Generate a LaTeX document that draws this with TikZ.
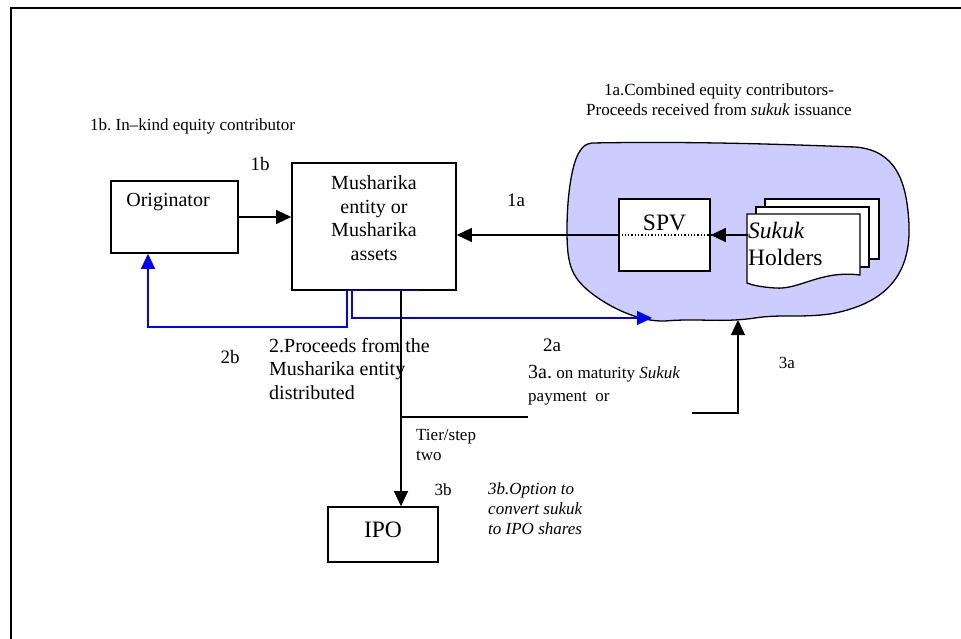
\documentclass[tikz,border=0pt]{standalone}
\usepackage{fontspec}
\setmainfont{Liberation Serif}
\usetikzlibrary{arrows.meta}
\newcommand\fsz[2]{\fontsize{#1}{#2}\selectfont}
\definecolor{cloudfill}{RGB}{204,204,255}
\definecolor{lineblue}{RGB}{0,0,255}
\frenchspacing
\tikzset{
  boxnode/.style={draw, line width=1.6pt, fill=white, inner sep=0pt},
  arr/.style={-{Triangle[length=15pt,width=14pt]}, line width=1.3pt},
  barr/.style={-{Triangle[length=15pt,width=14pt]}, line width=1.3pt, draw=lineblue},
  bline/.style={line width=1.3pt, draw=lineblue},
  pline/.style={line width=1.3pt},
  txt/.style={inner sep=0pt, text=black},
  sm/.style={txt, font=\fsz{17}{20}},
  md/.style={txt, font=\fsz{19}{22}},
  lg/.style={txt, font=\fsz{20}{23.5}},
  xl/.style={txt, font=\fsz{23.5}{27}},
}
\begin{document}
\begin{tikzpicture}[x=1pt,y=-1pt]
\useasboundingbox (0,0) rectangle (961,639);
% frame
\draw[line width=1.6pt] (11,639) -- (11,8) -- (961,8);

% cloud
\draw[line width=1.3pt, fill=cloudfill] (592,143) .. controls (700,141) and (800,145) .. (855,147)
 .. controls (895,150) and (907,180) .. (909,225)
 .. controls (911,280) and (880,305) .. (830,314)
 .. controls (800,318) and (780,314) .. (755,318)
 .. controls (720,323) and (700,318) .. (665,321)
 .. controls (640,322) and (610,308) .. (590,292)
 .. controls (570,276) and (567,262) .. (567,230)
 .. controls (567,195) and (572,162) .. (580,151)
 .. controls (583,146) and (586,144) .. (592,143) -- cycle;
\coordinate (cloudL) at (652,318);
\coordinate (cloudB) at (738,320);

% sukuk holders stacked documents
\draw[line width=1.3pt, fill=white] (765,199) rectangle (879,259);
\draw[line width=1.3pt, fill=white] (756,207) rectangle (869,267);
\draw[line width=1.3pt, fill=white] (747,214) -- (860,214) -- (860,275)
  .. controls (820,270) and (800,290) .. (775,288)
  .. controls (760,287) and (752,285) .. (747,283) -- cycle;
\node[xl, anchor=west, align=left] (sukuk) at (748,243.5) {\textit{Sukuk}\\Holders};

% boxes
\node[boxnode, minimum width=127pt, minimum height=72pt] (orig) at (174.5,217) {};
\node[lg] (origt) at (168,202) {Originator};
\node[boxnode, minimum width=164pt, minimum height=127pt] (mush) at (374,226.5) {};
\node[lg, align=center] (musht) at (374,218) {Musharika\\entity or\\Musharika\\assets};
\node[boxnode, minimum width=91pt, minimum height=72pt] (spv) at (664.5,235) {};
\node[xl] (spvt) at (664.5,223) {SPV};
\draw[dotted, line width=1.3pt] (spv.west) -- (spv.east);
\node[boxnode, minimum width=110pt, minimum height=55pt] (ipo) at (383,534.5) {};
\node[xl] (ipot) at (383,530) {IPO};

% connectors
\draw[arr] (orig.east) -- (mush.west |- orig.east);
\draw[arr] (spv.west) -- (mush.east |- spv.west);
\draw[arr] (sukuk.west |- spv.east) -- (spv.east);

\coordinate (b2) at (347,327);
\draw[bline] ([xshift=-27pt]mush.south) -- ([xshift=46pt]mush.south);
\draw[barr] ([xshift=-27pt]mush.south) -- (b2) -| ([xshift=-26.5pt]orig.south);
\coordinate (a2) at (352,318);
\draw[barr] ([xshift=-22pt]mush.south) -- (a2) -- (cloudL);

\draw[arr] ([xshift=27pt]mush.south) -- ([xshift=18pt]ipo.north);
\coordinate (j) at (401,417);
\coordinate (jE) at (528,417);
\draw[pline] (j) -- (jE);
\coordinate (k1) at (692,413);
\coordinate (k2) at (738,413);
\draw[arr] (k1) -- (k2) -- (cloudB);

% labels
\node[sm, anchor=west] (l1btitle) at (90,126) {1b. In–kind equity contributor};
\node[md] (l1b) at (260,164) {1b};
\node[md] (l1a) at (516,200) {1a};
\node[sm, align=center] (l1atitle) at (719,100) {1a.Combined equity contributors-\\Proceeds received from \textit{sukuk} issuance};
\node[md] (l2b) at (230,357) {2b};
\node[lg, anchor=west, align=left] (l2) at (269,369) {2.Proceeds from the\\Musharika entity\\distributed};
\node[md] (l2a) at (552,345) {2a};
\node[sm, anchor=west, align=left, font=\fsz{17}{23}] (l3a) at (528,385.5) {{\fontsize{20}{23}\selectfont 3a.} on maturity \textit{Sukuk}\\payment\ \ or};
\node[sm] (l3ar) at (787,363) {3a};
\node[sm, anchor=west, align=left] (tier) at (416,445) {Tier/step\\two};
\node[sm] (l3b) at (443,490) {3b};
\node[sm, anchor=west, align=left, font=\fsz{17}{20}\itshape] (l3bt) at (488,509) {3b.Option to\\convert sukuk\\to IPO shares};
\end{tikzpicture}
\end{document}
